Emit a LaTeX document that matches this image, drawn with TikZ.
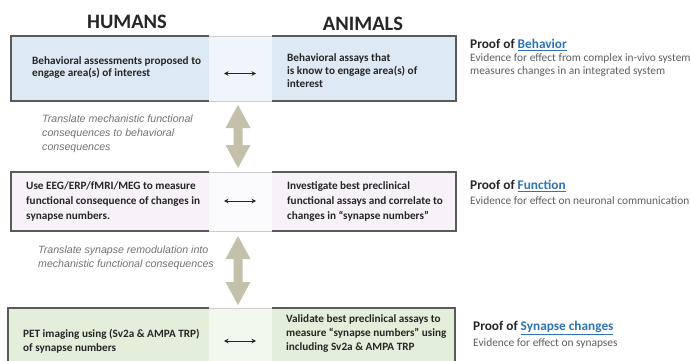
\documentclass[tikz,border=0pt]{standalone}
\usepackage{fontspec}
\setmainfont{Carlito}
\newfontfamily\transfont{Liberation Sans}
\usetikzlibrary{calc,arrows.meta}
\definecolor{boxblue}{RGB}{221,233,245}
\definecolor{stripblue}{RGB}{239,245,251}
\definecolor{boxpink}{RGB}{246,242,248}
\definecolor{strippink}{RGB}{251,250,252}
\definecolor{boxgreen}{RGB}{227,239,218}
\definecolor{stripgreen}{RGB}{242,248,237}
\definecolor{bordercol}{RGB}{90,90,90}
\definecolor{stripline}{RGB}{205,205,205}
\definecolor{khaki}{RGB}{196,193,171}
\definecolor{txt}{RGB}{38,38,38}
\definecolor{gtxt}{RGB}{115,115,115}
\definecolor{evtxt}{RGB}{95,95,95}
\definecolor{link}{RGB}{46,117,182}
\tikzset{
  boxfill/.style={anchor=north west, inner sep=0pt, outer sep=0pt, draw=none},
  boxtext/.style={anchor=west, inner sep=0pt, align=left, text=txt, font=\bfseries\fontsize{11.2}{#1}\selectfont},
  boxtext/.default=13,
  transtext/.style={anchor=west, inner sep=0pt, align=left, text=gtxt, font=\transfont\itshape\fontsize{10.6}{14}\selectfont},
  titletext/.style={inner sep=0pt, text=txt, font=\bfseries\fontsize{20.5}{23}\selectfont},
  prooftext/.style={anchor=west, inner sep=0pt, text=txt, font=\bfseries\fontsize{13.3}{15}\selectfont},
  evtext/.style={anchor=west, inner sep=0pt, align=left, text=evtxt, font=\fontsize{11.4}{12.5}\selectfont},
  border/.style={draw=bordercol, line width=1.2pt},
  stripedge/.style={draw=stripline, line width=0.8pt},
  smallarr/.style={draw=txt, line width=0.9pt, {Stealth[length=4.5pt,width=4.5pt]}-{Stealth[length=4.5pt,width=4.5pt]}},
  bigarr/.style={fill=khaki}
}
\begin{document}
\begin{tikzpicture}[x=1pt,y=-1pt]
\useasboundingbox (0,0) rectangle (691,361);
\clip (0,0) rectangle (691,361);
\fill[white] (0,0) rectangle (691,361);

% titles
\node[titletext] (humans) at (127,22) {HUMANS};
\node[titletext] (animals) at (363,24) {ANIMALS};

% box 1
\node[boxfill, fill=boxblue, minimum width=445pt, minimum height=65pt] (box1) at (11,36) {};
\node[boxfill, fill=stripblue, minimum width=63pt, minimum height=65pt] (strip1) at (209,36) {};
\draw[border] (strip1.north west) -| (box1.south west) -- (strip1.south west);
\draw[border] (strip1.north east) -| (box1.south east) -- (strip1.south east);
\draw[stripedge] (strip1.north west) -- (strip1.north east) (strip1.south west) -- (strip1.south east);

% box 2
\node[boxfill, fill=boxpink, minimum width=445pt, minimum height=59pt] (box2) at (11,172) {};
\node[boxfill, fill=strippink, minimum width=63pt, minimum height=59pt] (strip2) at (209,172) {};
\draw[border] (strip2.north west) -| (box2.south west) -- (strip2.south west);
\draw[border] (strip2.north east) -| (box2.south east) -- (strip2.south east);
\draw[stripedge] (strip2.north west) -- (strip2.north east) (strip2.south west) -- (strip2.south east);

% box 3
\node[boxfill, fill=boxgreen, minimum width=447pt, minimum height=60pt] (box3) at (8,308) {};
\node[boxfill, fill=stripgreen, minimum width=63pt, minimum height=60pt] (strip3) at (209,308) {};
\draw[border] (strip3.north west) -| (box3.south west);
\draw[border] (strip3.north east) -| (box3.south east);
\draw[stripedge] (strip3.north west) -- (strip3.north east);

% box texts
\node[boxtext=12.7] (h1) at (32,67.5) {Behavioral assessments proposed to\\engage area(s) of interest};
\node[boxtext=12.7] (a1) at (287,70.5) {Behavioral assays that\\is know to engage area(s) of\\interest};
\node[boxtext=15] (h2) at (26,201.5) {Use EEG/ERP/fMRI/MEG to measure\\functional consequence of changes in\\synapse numbers.};
\node[boxtext=15] (a2) at (287,201.5) {Investigate best preclinical\\functional assays and correlate to\\changes in “synapse numbers”};
\node[boxtext=14] (h3) at (23,341) {PET imaging using (Sv2a \& AMPA TRP)\\of synapse numbers};
\node[boxtext=14] (a3) at (286,334) {Validate best preclinical assays to\\measure “synapse numbers” using\\including Sv2a \& AMPA TRP};

% small double arrows
\coordinate (l1) at (224,73.5); \coordinate (r1) at (256,73.5);
\coordinate (l2) at (224,201); \coordinate (r2) at (256,201);
\coordinate (l3) at (224,341); \coordinate (r3) at (256,341);
\draw[smallarr] (l1) -- (r1);
\draw[smallarr] (l2) -- (r2);
\draw[smallarr] (l3) -- (r3);

% big khaki double arrows
\coordinate (t1) at (238,105); \coordinate (b1) at (238,168);
\coordinate (t2) at (238,236); \coordinate (b2) at (238,305);
\foreach \t/\b in {t1/b1,t2/b2}{
  \fill[bigarr] (\t) -- ($(\t)+(12.5,23)$) -- ($(\t)+(4.5,23)$) -- ($(\b)+(4.5,-23)$)
    -- ($(\b)+(12.5,-23)$) -- (\b) -- ($(\b)+(-12.5,-23)$) -- ($(\b)+(-4.5,-23)$)
    -- ($(\t)+(-4.5,23)$) -- ($(\t)+(-12.5,23)$) -- cycle;
}

% translate texts
\node[transtext] (tr1) at (42,134) {Translate mechanistic functional\\consequences to behavioral\\consequences};
\node[transtext] (tr2) at (38,258) {Translate synapse remodulation into\\mechanistic functional consequences};

% proof texts
\node[prooftext] (p1) at (470,45) {Proof of \textcolor{link}{\underline{Behavior}}};
\node[evtext] (e1) at (470,65) {Evidence for effect from complex in-vivo system\\measures changes in an integrated system};
\node[prooftext] (p2) at (470,186) {Proof of \textcolor{link}{\underline{Function}}};
\node[evtext] (e2) at (470,201) {Evidence for effect on neuronal communication};
\node[prooftext] (p3) at (473,328) {Proof of \textcolor{link}{\underline{Synapse changes}}};
\node[evtext] (e3) at (473,343) {Evidence for effect on synapses};
\end{tikzpicture}
\end{document}
